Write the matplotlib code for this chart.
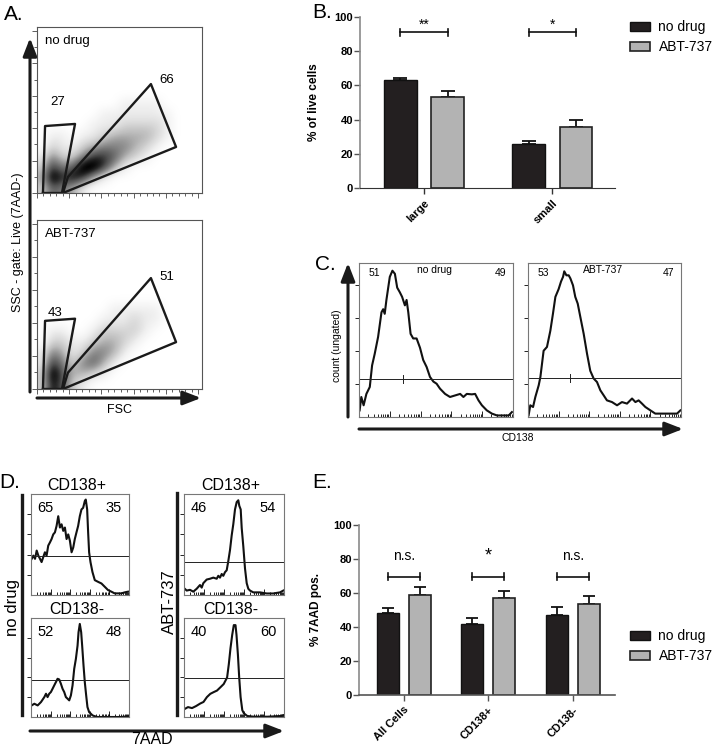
import numpy as np
import matplotlib
matplotlib.use("Agg")
import matplotlib.pyplot as plt
from matplotlib.patches import Rectangle

plt.rcParams['font.family'] = ['Liberation Sans', 'DejaVu Sans']

# ---------------- data ----------------
# A: FSC/SSC dot plot density (rows bottom -> top, 16 cols over 0..1024)
dens_nodrug = [
    [2, 5, 4, 3, 1, 0, 0, 0, 0, 0, 0, 0, 0, 0, 0, 0],
    [3, 8, 6, 7, 6, 3, 1, 0, 0, 0, 0, 0, 0, 0, 0, 0],
    [2, 6, 4, 5, 8, 8, 6, 3, 1, 0, 0, 0, 0, 0, 0, 0],
    [1, 4, 2, 2, 4, 6, 6, 5, 3, 2, 1, 0, 0, 0, 0, 0],
    [0, 2, 1, 1, 2, 3, 4, 4, 4, 3, 2, 1, 0, 0, 0, 0],
    [0, 1, 1, 0, 1, 1, 2, 3, 3, 3, 3, 2, 1, 0, 0, 0],
    [0, 0, 0, 0, 0, 1, 1, 1, 2, 2, 2, 2, 1, 0, 0, 0],
    [0, 0, 0, 0, 0, 0, 1, 1, 1, 1, 1, 1, 1, 0, 0, 0],
    [0, 0, 0, 0, 0, 0, 0, 0, 1, 1, 1, 1, 0, 0, 0, 0],
]
dens_abt = [
    [2, 7, 5, 2, 1, 0, 0, 0, 0, 0, 0, 0, 0, 0, 0, 0],
    [2, 8, 5, 3, 3, 2, 1, 0, 0, 0, 0, 0, 0, 0, 0, 0],
    [1, 6, 4, 2, 4, 5, 3, 1, 0, 0, 0, 0, 0, 0, 0, 0],
    [1, 4, 3, 1, 2, 4, 4, 3, 1, 0, 0, 0, 0, 0, 0, 0],
    [0, 2, 2, 1, 1, 2, 3, 3, 2, 1, 0, 0, 0, 0, 0, 0],
    [0, 1, 1, 0, 0, 1, 2, 2, 2, 2, 1, 0, 0, 0, 0, 0],
    [0, 0, 0, 0, 0, 0, 1, 1, 1, 2, 1, 1, 0, 0, 0, 0],
    [0, 0, 0, 0, 0, 0, 0, 1, 1, 1, 1, 1, 0, 0, 0, 0],
]
gate_small_x = [37, 50, 236, 155, 37]
gate_small_y = [0, 413, 426, 0, 0]
gate_large_x = [161, 192, 707, 863, 161]
gate_large_y = [0, 99, 672, 284, 0]
pct_A_nodrug = [27, 66]
pct_A_abt = [43, 51]

# B: % of live cells
groups_B = ['large', 'small']
B_nodrug = [63, 26]
B_nodrug_err = [1.5, 1.2]
B_abt = [53, 35.5]
B_abt_err = [3.5, 4.5]
sig_B = ['**', '*']

# C: CD138 histograms
C_x_nodrug = [4, 15, 30, 48, 70, 85, 102, 124, 146, 157, 167, 178, 200, 217, 233, 248, 265, 280, 298,
              309, 320, 335, 352, 374, 396, 417, 439, 461, 483, 504, 526, 559, 591, 624, 657, 678, 700,
              733, 754, 776, 798, 830, 863, 896, 939, 972, 993]
C_y_nodrug = [4.3, 13, 7.6, 15, 19.5, 33.5, 41, 52, 68, 70, 67, 76, 91, 95, 93, 84, 81, 78, 72.5,
              76, 68, 54, 51, 51, 45, 37, 32.5, 26, 23, 21.6, 18.4, 15, 13, 14, 15, 13, 15,
              14.7, 15, 10.8, 7.6, 4.3, 2.2, 1, 1, 1, 3.2]
C_x_abt = [4, 15, 33, 48, 70, 81, 102, 124, 146, 163, 179, 200, 216, 229, 237, 251, 266, 277, 294,
           309, 325, 342, 364, 386, 407, 429, 451, 473, 495, 516, 549, 582, 614, 647, 680, 702, 723,
           745, 767, 800, 832, 865, 898, 930, 974, 996]
C_y_abt = [1.1, 7.6, 6.5, 13, 20.6, 26, 43, 45.5, 56, 67, 78, 83, 88, 91, 94.6, 92, 92, 90, 85.5,
           78, 73.6, 65, 54, 41, 30, 25, 22.7, 17.3, 14, 10.8, 9.7, 7.6, 9.7, 8.7, 12, 9.7, 10.8,
           8.7, 6.5, 4.3, 2.2, 2.2, 2.2, 2.2, 2.2, 4.3]
C_gate = [24.5, 25.3]
C_gate_x = [283, 277]
pct_C_nodrug = [51, 49]
pct_C_abt = [53, 47]

# D: 7AAD histograms
D_x_pos_nodrug = [7, 24, 41, 58, 75, 92, 108, 125, 142, 159, 176, 193, 210, 227, 244, 261, 278, 295,
                  312, 329, 346, 363, 380, 397, 414, 431, 447, 464, 481, 498, 515, 532, 549, 559, 573,
                  583, 593, 607, 627, 651, 685, 719, 753, 786, 820, 854, 888, 922, 956, 990]
D_y_pos_nodrug = [35.8, 39, 35.8, 44, 39, 35.8, 32.6, 37.5, 42.3, 39, 48.9, 52, 55.4, 60, 62, 68.4,
                  78, 66.8, 70, 63.5, 66.8, 55.4, 60, 53.7, 42.3, 47, 55.4, 62, 68.4, 78, 84.7, 86.3,
                  93, 94.5, 84.7, 62, 42.3, 32.6, 22.8, 14.7, 13, 11.4, 8.1, 4.9, 3.3, 1.6, 1.6, 1.6,
                  2.6, 3.3]
D_x_neg_nodrug = [7, 34, 68, 102, 136, 153, 169, 186, 203, 220, 237, 254, 271, 288, 305, 322, 339,
                  356, 373, 390, 407, 424, 441, 458, 475, 485, 498, 512, 522, 536, 549, 563, 576,
                  593, 610, 627, 644, 678, 712, 780, 847, 915, 993]
D_y_neg_nodrug = [11.7, 13.4, 11.7, 15.1, 20.1, 23.5, 20.1, 23.5, 25.2, 28.5, 31.9, 35.2, 38.6,
                  37.9, 33.6, 28.5, 25.2, 20.1, 18.5, 16.8, 21.8, 31.9, 48.7, 58.7, 72.1, 85.6, 94,
                  85.6, 72.1, 52, 35.2, 21.8, 10.1, 5, 3.4, 1.7, 1, 0, 0, 0, 0, 0, 0.7]
D_x_pos_abt = [7, 27, 60, 93, 127, 143, 160, 177, 193, 210, 227, 260, 293, 327, 343, 360, 377, 393,
               410, 427, 443, 460, 477, 493, 510, 527, 543, 553, 567, 577, 593, 610, 627, 643, 660,
               693, 727, 760, 827, 893, 960, 993]
D_y_pos_abt = [6.2, 4.4, 5.1, 3.3, 6.2, 8, 9.9, 7.3, 11.7, 13.5, 15.3, 16.1, 17.2, 16.1, 19, 17.2,
               20.8, 19, 22.6, 24.5, 33.6, 44.5, 59.1, 70.1, 84.7, 92, 93.8, 88.3, 84.7, 66.4, 48.2,
               26.3, 11.7, 6.2, 4.4, 2.6, 2.6, 2.6, 1.5, 1.5, 2.6, 4.4]
D_x_neg_abt = [5, 40, 80, 120, 162, 195, 229, 263, 296, 330, 364, 397, 414, 431, 448, 465, 482, 498,
               515, 525, 539, 552, 566, 583, 599, 633, 700, 835, 970, 1000]
D_y_neg_abt = [8, 10, 9, 11, 13.6, 15.2, 20.1, 23.4, 25.1, 26.7, 30, 33.3, 36.6, 39.9, 53.2, 69.6,
               82.9, 92.8, 92.8, 82.9, 63.1, 39.9, 20.1, 6.9, 3.7, 1, 0.3, 0.3, 1, 2]
D_gate = [39, 37.6, 32.8, 38.9]
pct_D = [(65, 35), (52, 48), (46, 54), (40, 60)]

# E: % 7AAD pos.
groups_E = ['All Cells', 'CD138+', 'CD138-']
E_nodrug = [48, 42, 47]
E_nodrug_err = [3.2, 3.2, 5]
E_abt = [59, 57, 53.5]
E_abt_err = [4.5, 3.9, 4.8]
sig_E = ['n.s.', '*', 'n.s.']

BLACK = '#231f20'
GRAY = '#b3b3b3'
W, H = 716, 746

fig = plt.figure(figsize=(W / 100, H / 100), dpi=100)


def rect(x0, y0, x1, y1):
    return [x0 / W, 1 - y1 / H, (x1 - x0) / W, (y1 - y0) / H]


def ftext(x, y, s, **kw):
    kw.setdefault('ha', 'center')
    kw.setdefault('va', 'center')
    fig.text(x / W, 1 - y / H, s, **kw)


def box_style(ax, col='#666666'):
    for sp in ax.spines.values():
        sp.set_color(col)
        sp.set_linewidth(0.8)


# log-like ticks for histogram x axes
log_major = [200 * d for d in range(6)]
log_minor = [200 * d + 200 * np.log10(k) for d in range(5) for k in range(2, 10)]

# ---------------- A ----------------
ftext(14, 15, 'A.', fontsize=15)
for (y0, y1), dens, label, pct, ppos in [
        ((27, 193), dens_nodrug, 'no drug', pct_A_nodrug, [(130, 561), (807, 697)]),
        ((220, 389), dens_abt, 'ABT-737', pct_A_abt, [(112, 460), (807, 679)])]:
    ax = fig.add_axes(rect(37, y0, 202, y1))
    grid = np.zeros((16, 16))
    grid[:len(dens)] = dens
    ax.imshow(grid, origin='lower', extent=(0, 1024, 0, 1024), cmap='Greys', vmin=0, vmax=7,
              interpolation='bicubic', aspect='auto')
    ax.plot(gate_small_x, gate_small_y, color='#1a1a1a', lw=1.7)
    ax.plot(gate_large_x, gate_large_y, color='#1a1a1a', lw=1.7)
    ax.set_xlim(0, 1024)
    ax.set_ylim(0, 1024)
    ax.set_xticks(np.arange(0, 1025, 200))
    ax.set_xticks(np.arange(0, 1025, 40), minor=True)
    ax.set_yticks(np.arange(0, 1025, 200))
    ax.set_yticks(np.arange(0, 1025, 100), minor=True)
    ax.tick_params(which='both', direction='out', labelleft=False, labelbottom=False, width=0.6,
                   color='#444444')
    ax.tick_params(which='major', length=3.5)
    ax.tick_params(which='minor', length=2)
    box_style(ax, '#555555')
    ax.text(0.05, 0.95, label, transform=ax.transAxes, ha='left', va='top', fontsize=9.5)
    for v, (px_, py_) in zip(pct, ppos):
        ax.text(px_, py_, str(v), ha='center', va='center', fontsize=9.5)

ftext(18, 242, 'SSC - gate: Live (7AAD-)', rotation=90, fontsize=9)
ftext(120, 410, 'FSC', fontsize=9)

# ---------------- B ----------------
ftext(322, 13, 'B.', fontsize=15)
axB = fig.add_axes(rect(360, 17, 615, 188))
xb = np.arange(len(groups_B))
off, bw = 0.185, 0.255
axB.bar(xb - off, B_nodrug, bw, color=BLACK, edgecolor='#111111', lw=1.0, zorder=2)
axB.bar(xb + off, B_abt, bw, color=GRAY, edgecolor='#222222', lw=1.2, zorder=2)
axB.errorbar(xb - off, B_nodrug, yerr=[np.zeros(len(xb)), B_nodrug_err], fmt='none',
             ecolor='#111111', capsize=4.7, elinewidth=1.3, capthick=1.3, zorder=1)
axB.errorbar(xb + off, B_abt, yerr=[np.zeros(len(xb)), B_abt_err], fmt='none',
             ecolor='#111111', capsize=4.7, elinewidth=1.3, capthick=1.3, zorder=1)
for i, s in enumerate(sig_B):
    axB.plot([i - off, i + off], [91, 91], color='#111111', lw=1.2)
    axB.plot([i - off, i - off], [89, 93], color='#111111', lw=1.2)
    axB.plot([i + off, i + off], [89, 93], color='#111111', lw=1.2)
    axB.text(i, 95.5, s, ha='center', va='center', fontsize=10)
axB.set_xlim(-0.5, 1.49)
axB.set_ylim(0, 100)
axB.set_yticks(np.arange(0, 101, 20))
axB.set_xticks(xb)
axB.set_xticklabels(groups_B, rotation=45, ha='right', va='top', rotation_mode='anchor',
                    fontweight='bold', fontsize=8)
for t in axB.get_yticklabels():
    t.set_fontweight('bold')
    t.set_fontsize(8)
axB.spines[['top', 'right']].set_visible(False)
axB.spines['left'].set_color('#8a8a8a')
axB.spines['left'].set_linewidth(1.2)
axB.spines['bottom'].set_color('#333333')
axB.tick_params(axis='y', length=4, width=1.0, color='#555555', pad=1)
axB.tick_params(axis='x', length=4, width=1.0, color='#333333', pad=3)
axB.set_ylabel('% of live cells', fontweight='bold', fontsize=8.5)
axB.yaxis.set_label_coords((320 - 360) / 255, 0.5)

leg_handles = [Rectangle((0, 0), 1, 1, facecolor=BLACK, edgecolor='#111111', lw=1.0),
               Rectangle((0, 0), 1, 1, facecolor=GRAY, edgecolor='#222222', lw=1.2)]
axB.legend(leg_handles, ['no drug', 'ABT-737'], loc='upper left',
           bbox_to_anchor=(630 / W, 1 - 20 / H), bbox_transform=fig.transFigure,
           frameon=False, fontsize=10, handlelength=1.45, handleheight=0.6,
           handletextpad=0.6, borderpad=0, borderaxespad=0, labelspacing=0.45)

# ---------------- C ----------------
ftext(325, 265, 'C.', fontsize=15)
for (x0, x1), xs, ys, g, gx, pct, lab in [
        ((359, 513), C_x_nodrug, C_y_nodrug, C_gate[0], C_gate_x[0], pct_C_nodrug, 'no drug'),
        ((528, 681), C_x_abt, C_y_abt, C_gate[1], C_gate_x[1], pct_C_abt, 'ABT-737')]:
    ax = fig.add_axes(rect(x0, 263, x1, 417))
    ax.plot(xs, ys, color='#111111', lw=1.5)
    ax.axhline(g, color='#222222', lw=0.7)
    ax.plot([gx, gx], [g - 2.5, g + 2.5], color='#222222', lw=0.7)
    ax.set_xlim(0, 1000)
    ax.set_ylim(0, 100)
    ax.set_xticks(log_major)
    ax.set_xticks(log_minor, minor=True)
    ax.set_yticks([21.5, 43, 64.5, 86])
    ax.tick_params(axis='x', which='both', direction='in', labelbottom=False, width=0.6)
    ax.tick_params(axis='x', which='major', length=4)
    ax.tick_params(axis='x', which='minor', length=2)
    ax.tick_params(axis='y', direction='out', length=3, width=0.6, labelleft=False)
    box_style(ax, '#777777')
    ax.text(0.1, 0.935, str(pct[0]), transform=ax.transAxes, ha='center', va='center', fontsize=7.5)
    ax.text(0.92, 0.935, str(pct[1]), transform=ax.transAxes, ha='center', va='center', fontsize=7.5)
    ax.text(0.49, 0.955, lab, transform=ax.transAxes, ha='center', va='center', fontsize=7.5)

ftext(337, 346, 'count (ungated)', rotation=90, fontsize=7.5)
ftext(518, 438, 'CD138', fontsize=7.5)

# ---------------- D ----------------
ftext(10, 483, 'D.', fontsize=15)
D_curves = [(D_x_pos_nodrug, D_y_pos_nodrug), (D_x_neg_nodrug, D_y_neg_nodrug),
            (D_x_pos_abt, D_y_pos_abt), (D_x_neg_abt, D_y_neg_abt)]
D_boxes = [(31, 494, 129, 595), (31, 618, 129, 717), (184, 494, 284, 595), (184, 618, 284, 717)]
D_titles = ['CD138+', 'CD138-', 'CD138+', 'CD138-']
for (xs, ys), (x0, y0, x1, y1), g, pct, title in zip(D_curves, D_boxes, D_gate, pct_D, D_titles):
    ax = fig.add_axes(rect(x0, y0, x1, y1))
    ax.plot(xs, ys, color='#111111', lw=1.5)
    ax.axhline(g, color='#222222', lw=0.7)
    ax.set_xlim(0, 1000)
    ax.set_ylim(0, 100)
    ax.set_xticks(log_major)
    ax.set_xticks(log_minor, minor=True)
    ax.set_yticks([20, 40, 60, 80])
    ax.tick_params(axis='x', which='both', direction='in', labelbottom=False, width=0.6)
    ax.tick_params(axis='x', which='major', length=4)
    ax.tick_params(axis='x', which='minor', length=2)
    ax.tick_params(axis='y', direction='out', length=3, width=0.6, labelleft=False)
    box_style(ax, '#777777')
    ax.text(0.15, 0.86, str(pct[0]), transform=ax.transAxes, ha='center', va='center', fontsize=10.5)
    ax.text(0.84, 0.86, str(pct[1]), transform=ax.transAxes, ha='center', va='center', fontsize=10.5)
    ftext((x0 + x1) / 2 - 3, y0 - 8, title, fontsize=11.5)

ftext(13, 608, 'no drug', rotation=90, fontsize=12)
ftext(169, 602, 'ABT-737', rotation=90, fontsize=12)
ftext(152, 740, '7AAD', fontsize=11.5)

# ---------------- E ----------------
ftext(322, 482, 'E.', fontsize=15)
axE = fig.add_axes(rect(359, 525, 615, 695))
xe = np.arange(len(groups_E))
off_e, bw_e = 0.19, 0.26
axE.bar(xe - off_e, E_nodrug, bw_e, color=BLACK, edgecolor='#111111', lw=1.0, zorder=2)
axE.bar(xe + off_e, E_abt, bw_e, color=GRAY, edgecolor='#222222', lw=1.2, zorder=2)
axE.errorbar(xe - off_e, E_nodrug, yerr=[np.zeros(len(xe)), E_nodrug_err], fmt='none',
             ecolor='#111111', capsize=4, elinewidth=1.3, capthick=1.3, zorder=1)
axE.errorbar(xe + off_e, E_abt, yerr=[np.zeros(len(xe)), E_abt_err], fmt='none',
             ecolor='#111111', capsize=4, elinewidth=1.3, capthick=1.3, zorder=1)
for i, s in enumerate(sig_E):
    axE.plot([i - off_e, i + off_e], [69.5, 69.5], color='#111111', lw=1.2)
    axE.plot([i - off_e, i - off_e], [67.5, 71.5], color='#111111', lw=1.2)
    axE.plot([i + off_e, i + off_e], [67.5, 71.5], color='#111111', lw=1.2)
    if s == '*':
        axE.text(i, 82, s, ha='center', va='center', fontsize=13)
    else:
        axE.text(i, 82, s, ha='center', va='center', fontsize=10)
axE.set_xlim(-0.53, 2.5)
axE.set_ylim(0, 100)
axE.set_yticks(np.arange(0, 101, 20))
axE.set_xticks(xe)
axE.set_xticklabels(groups_E, rotation=45, ha='right', va='top', rotation_mode='anchor',
                    fontweight='bold', fontsize=8)
for t in axE.get_yticklabels():
    t.set_fontweight('bold')
    t.set_fontsize(8)
axE.spines[['top', 'right']].set_visible(False)
axE.spines['left'].set_color('#8a8a8a')
axE.spines['left'].set_linewidth(1.2)
axE.spines['bottom'].set_color('#555555')
axE.spines['bottom'].set_linewidth(1.2)
axE.tick_params(axis='y', length=4, width=1.0, color='#555555', pad=1)
axE.tick_params(axis='x', length=4, width=1.0, color='#555555', pad=3)
axE.set_ylabel('% 7AAD pos.', fontweight='bold', fontsize=8.5)
axE.yaxis.set_label_coords((322 - 359) / 256, 0.5)
axE.legend(leg_handles, ['no drug', 'ABT-737'], loc='upper left',
           bbox_to_anchor=(630 / W, 1 - 629 / H), bbox_transform=fig.transFigure,
           frameon=False, fontsize=10, handlelength=1.45, handleheight=0.6,
           handletextpad=0.6, borderpad=0, borderaxespad=0, labelspacing=0.45)

# ---------------- decorative axis arrows ----------------
ov = fig.add_axes([0, 0, 1, 1], zorder=-1)
ov.set_xlim(0, W)
ov.set_ylim(H, 0)
ov.axis('off')
arr = dict(arrowstyle='-|>,head_length=0.9,head_width=0.35', lw=2.2, color='#1a1a1a',
           mutation_scale=12, shrinkA=0, shrinkB=0)
ov.annotate('', xy=(30, 38), xytext=(30, 392), arrowprops=arr)
ov.annotate('', xy=(201, 398), xytext=(37, 398), arrowprops=arr)
ov.annotate('', xy=(348, 263), xytext=(348, 417), arrowprops=arr)
ov.annotate('', xy=(683, 429), xytext=(359, 429), arrowprops=arr)
ov.annotate('', xy=(284, 731), xytext=(30, 731), arrowprops=arr)
ov.plot([22, 22], [495, 715], color='#1a1a1a', lw=2.4)
ov.plot([177, 177], [493, 715], color='#1a1a1a', lw=2.4)

fig.savefig('out.png', dpi=100)
